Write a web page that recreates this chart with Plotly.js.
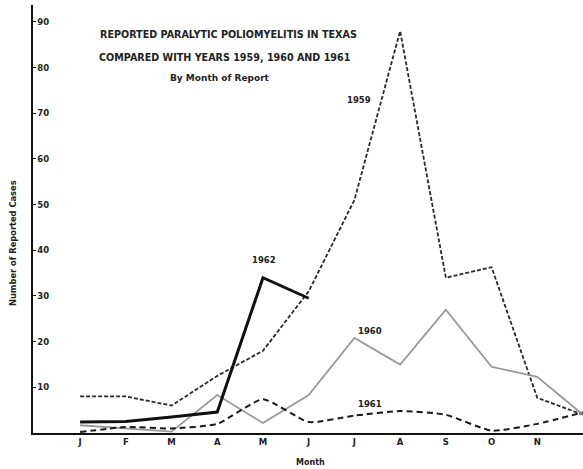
<!DOCTYPE html>
<html>
<head>
<meta charset="utf-8">
<script src="https://cdn.plot.ly/plotly-3.0.1.min.js"></script>
<style>html,body{margin:0;padding:0;background:#fff;}#chart{width:583px;height:469px;}</style>
</head>
<body>
<div id="chart"></div>
<script>
const months = ['Jan','Feb','Mar','Apr','May','Jun','Jul','Aug','Sep','Oct','Nov','Dec'];
const monthLabels = ['J','F','M','A','M','J','J','A','S','O','N','D'];
const cases1959 = [8, 8, 6, 12.5, 18, 31, 51, 88, 34, 36.3, 7.7, 4];
const cases1960 = [1.7, 1.0, 0.3, 8.3, 2.2, 8.3, 20.8, 15, 27, 14.5, 12.3, 4];
const cases1961 = [0.2, 1.3, 1.0, 2.0, 7.4, 2.4, 3.8, 4.8, 4, 0.5, 2, 4.5];
const cases1962 = [2.4, 2.5, 3.5, 4.6, 34, 29.5];
const yTicks = [10, 20, 30, 40, 50, 60, 70, 80, 90];

const F = 'DejaVu Sans, sans-serif';
const traces = [
  {x: months, y: cases1959, mode: 'lines', name: '1959',
   line: {color: '#2a2a2a', width: 1.8, dash: '4px,2px'}},
  {x: months, y: cases1960, mode: 'lines', name: '1960',
   line: {color: '#999', width: 1.8}},
  {x: months, y: cases1961, mode: 'lines', name: '1961',
   line: {color: '#1a1a1a', width: 2, dash: '6px,4px', shape: 'spline', smoothing: 0.5}},
  {x: months.slice(0, cases1962.length), y: cases1962, mode: 'lines', name: '1962',
   line: {color: '#111', width: 3}}
];

function ann(text, x, y, size, xref, yref) {
  return {text: text, x: x, y: y, xref: xref || 'paper', yref: yref || 'paper',
    showarrow: false, font: {family: F, size: size, color: '#222', weight: 'bold'},
    xanchor: 'center', yanchor: 'middle'};
}
// pixel helpers for annotation placement (plot area: x 33..583, y 5..433)
const px = x => (x - 33) / 550;
const py = y => (433 - y) / 428;

// the last month label falls beyond the visible edge in the reference
const shownTicks = months.slice(0, 11);
const shownLabels = monthLabels.slice(0, 11);

const layout = {
  width: 583, height: 469,
  margin: {l: 33, r: 0, t: 5, b: 36},
  paper_bgcolor: '#fff', plot_bgcolor: '#fff',
  showlegend: false,
  xaxis: {
    type: 'category', categoryorder: 'array', categoryarray: months,
    tickvals: shownTicks, ticktext: shownLabels,
    range: [-1.03, 11],
    showgrid: false, zeroline: false,
    showline: true, linecolor: '#111', linewidth: 2,
    ticks: '', ticklen: 0,
    tickfont: {family: F, size: 8.5, color: '#222', weight: 'bold'}
  },
  yaxis: {
    range: [0, 93.7],
    tickvals: yTicks,
    showgrid: false, zeroline: false,
    showline: true, linecolor: '#111', linewidth: 2,
    ticks: 'inside', ticklen: 3, tickcolor: '#111', tickwidth: 1,
    ticklabelposition: 'inside',
    tickfont: {family: F, size: 8.5, color: '#222', weight: 'bold'}
  },
  annotations: [
    ann('REPORTED PARALYTIC POLIOMYELITIS IN TEXAS', px(228), py(35), 9.6),
    ann('COMPARED WITH YEARS 1959, 1960 AND 1961', px(225), py(57), 9.6),
    ann('By Month of Report', px(220), py(78), 9),
    ann('1959', px(359), py(100), 8.5),
    ann('1960', px(370), py(331), 8.5),
    ann('1961', px(370), py(404), 8.5),
    ann('1962', px(264), py(260), 8.5),
    ann('Month', px(310), py(462), 8),
    Object.assign(ann('Number of Reported Cases', px(13), py(243), 8.3), {textangle: -90})
  ]
};

Plotly.newPlot('chart', traces, layout, {displayModeBar: false, staticPlot: true});
</script>
</body>
</html>
